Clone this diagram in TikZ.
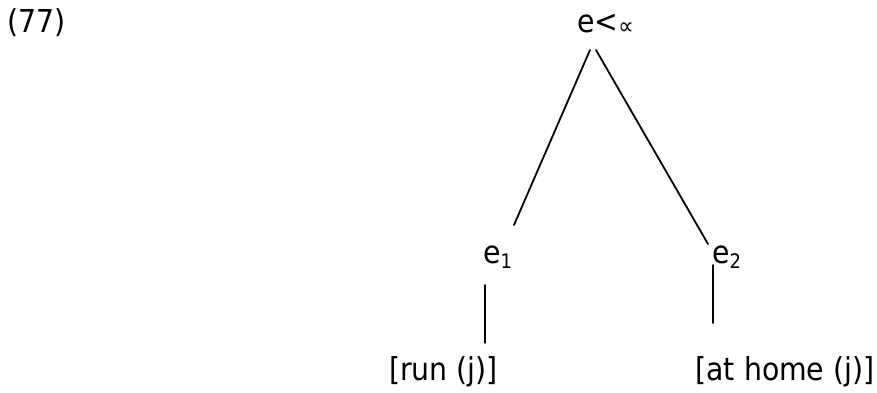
\documentclass[tikz,border=0pt]{standalone}
\usepackage{fontspec}
\setmainfont{DejaVu Sans Condensed}
\begin{document}
\begin{tikzpicture}[x=1pt,y=-1pt,
  lbl/.style={inner sep=0pt, font=\fontsize{31.5}{33}\selectfont},
  edge/.style={line width=1.8pt, line cap=round}]
\useasboundingbox (0,0) rectangle (877,392);
\node[lbl, anchor=base west] (ex) at (7,32) {(77)};
\node[lbl, anchor=base west] (root) at (577,32) {e<\raisebox{-2pt}{\fontsize{24}{24}\selectfont ∝}};
\node[lbl, anchor=base west] (e1) at (483,263) {e\raisebox{-5pt}{\fontsize{20}{20}\selectfont 1}};
\node[lbl, anchor=base west] (e2) at (712,263) {e\raisebox{-5pt}{\fontsize{20}{20}\selectfont 2}};
\node[lbl, anchor=base] (p1) at (443.5,380) {[run (j)]};
\node[lbl, anchor=base] (p2) at (785,380) {[at home (j)]};
\coordinate (rL) at (590,50);
\coordinate (rR) at (596,50);
\coordinate (e1t) at (514,225);
\coordinate (e2t) at (708,244);
\coordinate (e1b) at (485,285);
\coordinate (p1t) at (485,343);
\coordinate (e2b) at (713,265);
\coordinate (p2t) at (713,323);
\draw[edge] (rL) -- (e1t);
\draw[edge] (rR) -- (e2t);
\draw[edge] (e1b) -- (p1t);
\draw[edge] (e2b) -- (p2t);
\end{tikzpicture}
\end{document}
